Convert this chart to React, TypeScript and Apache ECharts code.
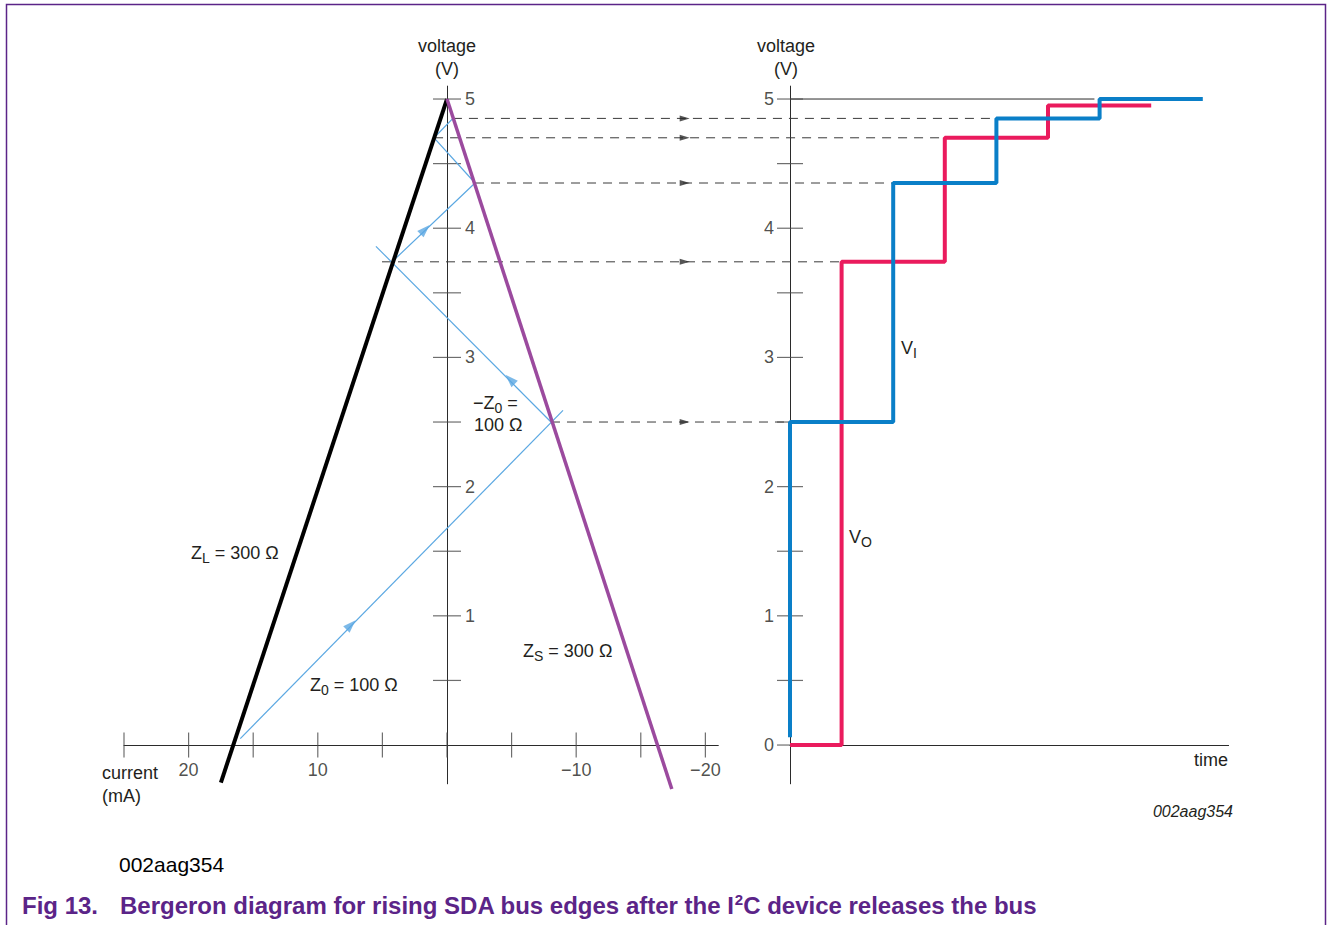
import React, { useEffect, useRef } from "react";
import * as echarts from "echarts";

const FONT = '"Liberation Sans", Arial, Helvetica, sans-serif';
const INK = "#231f20";
const PURPLE_TXT = "#5b2488";

// ---- left panel: current (mA) vs voltage (V)
const currentTicks = [25, 20, 15, 10, 5, 0, -5, -10, -15, -20];
const currentLabels = [20, 10, -10, -20];
const leftVoltTicks = [0.5, 1, 1.5, 2, 2.5, 3, 3.5, 4, 4.5, 5];
const leftVoltLabels = [1, 2, 3, 4, 5];

const zlLine = [[0, 5], [17.5, -0.29]];
const zsLine = [[0, 5], [-17.4, -0.34]];
const z0First = [[16.0, 0.05], [-8.98, 2.59]];
const z0Second = [[-8.05, 2.5], [5.5, 3.86]];
const z0Rest = [[4.25, 3.74], [-2.17, 4.35], [1.0, 4.7], [-0.46, 4.85]];
const arrowsUpRight = [[7.43, 0.93], [1.7, 3.99]];
const arrowsUpLeft = [[-4.88, 2.83]];

// dashed projections
const dashLevels = [2.5, 3.74, 4.35, 4.7, 4.85];
const dashStartCurrent = [-8.05, 5.03, -2.17, 1.0, -0.46];
const dashEndTime = [0, 1, 2, 3, 4];
const dashArrowCurrent = -18.4;

// ---- right panel: time vs voltage
const rightVoltTicks = [0, 0.5, 1, 1.5, 2, 2.5, 3, 3.5, 4, 4.5, 5];
const rightVoltLabels = [0, 1, 2, 3, 4, 5];
const viPoints = [[0, 0.06], [2, 2.5], [4, 4.35], [6, 4.85], [8, 5.0]];
const voPoints = [[0, 0], [1, 0], [3, 3.74], [5, 4.7], [7, 4.95]];
const ref5V = [[0, 5], [5.9, 5]];

const minusFmt = (v: number) => (v < 0 ? "\u2212" + Math.abs(v) : String(v));

const lineSeries = (data: number[][], color: string, width: number, idx: number, extra: any = {}) => ({
  type: "line",
  xAxisIndex: idx,
  yAxisIndex: idx,
  data,
  symbol: "none",
  showSymbol: false,
  clip: false,
  silent: true,
  lineStyle: { color, width },
  z: 4,
  ...extra,
});

const scatterSeries = (data: number[][], idx: number, symbol: string, size: number[], rotate: number, color: string, z = 3) => ({
  type: "scatter",
  xAxisIndex: idx,
  yAxisIndex: idx,
  data,
  symbol,
  symbolSize: size,
  symbolRotate: rotate,
  itemStyle: { color },
  silent: true,
  clip: false,
  z,
});

const labelSeries = (data: number[][], idx: number, position: string, distance: number, dim: number) => ({
  type: "scatter",
  xAxisIndex: idx,
  yAxisIndex: idx,
  data,
  symbol: "circle",
  symbolSize: 0.1,
  itemStyle: { color: "rgba(0,0,0,0)" },
  silent: true,
  clip: false,
  z: 8,
  label: {
    show: true,
    position,
    distance,
    color: INK,
    fontSize: 18,
    fontFamily: FONT,
    formatter: (p: any) => minusFmt(p.value[dim]),
  },
});

const RICH = {
  s: { font: `14px ${FONT}`, fill: INK, padding: [10, 0, 0, 0] },
};

const txt = (x: number, y: number, text: string, extra: any = {}) => ({
  type: "text",
  x,
  y,
  silent: true,
  z: 10,
  style: {
    text,
    font: `18px ${FONT}`,
    fill: INK,
    align: "left",
    verticalAlign: "middle",
    rich: RICH,
    ...extra,
  },
});

export default function App() {
  const ref = useRef<HTMLDivElement>(null);

  useEffect(() => {
    document.body.style.margin = "0";
    if (!ref.current) return;
    const chart = echarts.init(ref.current, null, { renderer: "svg" });

    const axisLineStyle = { color: "#2b2b2b", width: 1 };

    const option: any = {
      animation: false,
      backgroundColor: "#ffffff",
      grid: [
        { left: 124, top: 86.1, width: 594.3, height: 697.7 },
        { left: 790, top: 86.1, width: 438.6, height: 697.7 },
      ],
      xAxis: [
        {
          gridIndex: 0,
          type: "value",
          min: -21,
          max: 25,
          inverse: true,
          axisLine: { show: true, onZero: true, lineStyle: axisLineStyle },
          axisTick: { show: false },
          splitLine: { show: false },
          axisLabel: { show: false },
        },
        {
          gridIndex: 1,
          type: "value",
          min: 0,
          max: 8.5,
          axisLine: { show: true, onZero: true, lineStyle: axisLineStyle },
          axisTick: { show: false },
          splitLine: { show: false },
          axisLabel: { show: false },
        },
      ],
      yAxis: [
        {
          gridIndex: 0,
          type: "value",
          min: -0.3,
          max: 5.1,
          axisLine: { show: true, onZero: true, lineStyle: axisLineStyle },
          axisTick: { show: false },
          splitLine: { show: false },
          axisLabel: { show: false },
        },
        {
          gridIndex: 1,
          type: "value",
          min: -0.3,
          max: 5.1,
          axisLine: { show: true, onZero: true, lineStyle: axisLineStyle },
          axisTick: { show: false },
          splitLine: { show: false },
          axisLabel: { show: false },
        },
      ],
      series: [
        // axis ticks (crossing the axis lines)
        scatterSeries(currentTicks.map((c) => [c, 0]), 0, "rect", [1.2, 25], 0, "#4a4a4a"),
        scatterSeries(leftVoltTicks.map((v) => [0, v]), 0, "rect", [28, 1.2], 0, "#4a4a4a"),
        scatterSeries(rightVoltTicks.map((v) => [0, v]), 1, "rect", [26, 1.2], 0, "#4a4a4a"),
        // tick labels
        labelSeries(currentLabels.map((c) => [c, 0]), 0, "bottom", 16, 0),
        labelSeries(leftVoltLabels.map((v) => [0, v]), 0, "right", 18, 1),
        labelSeries(rightVoltLabels.map((v) => [0, v]), 1, "left", 16, 1),
        // Z0 reflections (thin blue)
        lineSeries(z0First, "#5ba8e2", 1.2, 0),
        lineSeries(z0Second, "#5ba8e2", 1.2, 0),
        lineSeries(z0Rest, "#5ba8e2", 1.2, 0),
        scatterSeries(arrowsUpRight, 0, "triangle", [9, 13], -45, "#5ba8e2", 5),
        scatterSeries(arrowsUpLeft, 0, "triangle", [9, 13], 45, "#5ba8e2", 5),
        // load lines
        lineSeries(zlLine, "#000000", 4, 0, { z: 6 }),
        lineSeries(zsLine, "#9b4a9e", 3.5, 0, { z: 6 }),
        // dashed projection arrowheads
        scatterSeries(dashLevels.map((v) => [dashArrowCurrent, v]), 0, "triangle", [6, 10], -90, "#2b2b2b", 5),
        // right panel
        lineSeries(ref5V, "#2b2b2b", 1, 1, { z: 3 }),
        lineSeries(voPoints, "#ea1b5d", 4, 1, { step: "start", z: 6 }),
        lineSeries(viPoints, "#0a7fc8", 4, 1, { step: "start", z: 7 }),
      ],
    };

    chart.setOption(option);

    const dashed = dashLevels.map((v, i) => {
      const p1 = chart.convertToPixel({ xAxisIndex: 0, yAxisIndex: 0 }, [dashStartCurrent[i], v]) as number[];
      const p2 = chart.convertToPixel({ xAxisIndex: 1, yAxisIndex: 1 }, [dashEndTime[i], v]) as number[];
      return {
        type: "line",
        silent: true,
        z: 2,
        shape: { x1: p1[0], y1: p1[1], x2: p2[0], y2: p2[1] },
        style: { stroke: "#3a3a3a", lineWidth: 1, lineDash: [9, 7] },
      };
    });

    const texts = [
      txt(447, 46, "voltage", { align: "center" }),
      txt(447, 69, "(V)", { align: "center" }),
      txt(786, 46, "voltage", { align: "center" }),
      txt(786, 69, "(V)", { align: "center" }),
      txt(102, 773, "current"),
      txt(102, 796, "(mA)"),
      txt(1228, 760, "time", { align: "right" }),
      txt(1233, 811, "002aag354", { align: "right", font: `italic 16px ${FONT}` }),
      txt(191, 553, "Z{s|L} = 300 \u03a9"),
      txt(310, 685, "Z{s|0} = 100 \u03a9"),
      txt(523, 651, "Z{s|S} = 300 \u03a9"),
      txt(473, 403, "\u2212Z{s|0} ="),
      txt(474, 425, "100 \u03a9"),
      txt(901, 348, "V{s|I}"),
      txt(849, 537, "V{s|O}"),
      txt(119, 864, "002aag354", { font: `21px ${FONT}`, fill: "#000000" }),
      txt(22, 905, "Fig 13.", { font: `bold 24px ${FONT}`, fill: PURPLE_TXT }),
      txt(
        120,
        905,
        "Bergeron diagram for rising SDA bus edges after the I{p|2}C device releases the bus",
        {
          font: `bold 24px ${FONT}`,
          fill: PURPLE_TXT,
          rich: { p: { font: `bold 15px ${FONT}`, fill: PURPLE_TXT, padding: [0, 0, 11, 0] } },
        }
      ),
    ];

    const border = {
      type: "rect",
      silent: true,
      z: 1,
      shape: { x: 6.5, y: 4.5, width: 1319, height: 960 },
      style: { fill: "none", stroke: "#5b2488", lineWidth: 1.5 },
    };

    chart.setOption({ graphic: [border, ...dashed, ...texts] });

    return () => chart.dispose();
  }, []);

  return (
    <div
      ref={ref}
      style={{ position: "absolute", left: 0, top: 0, width: 1328, height: 925, background: "#fff" }}
    />
  );
}
